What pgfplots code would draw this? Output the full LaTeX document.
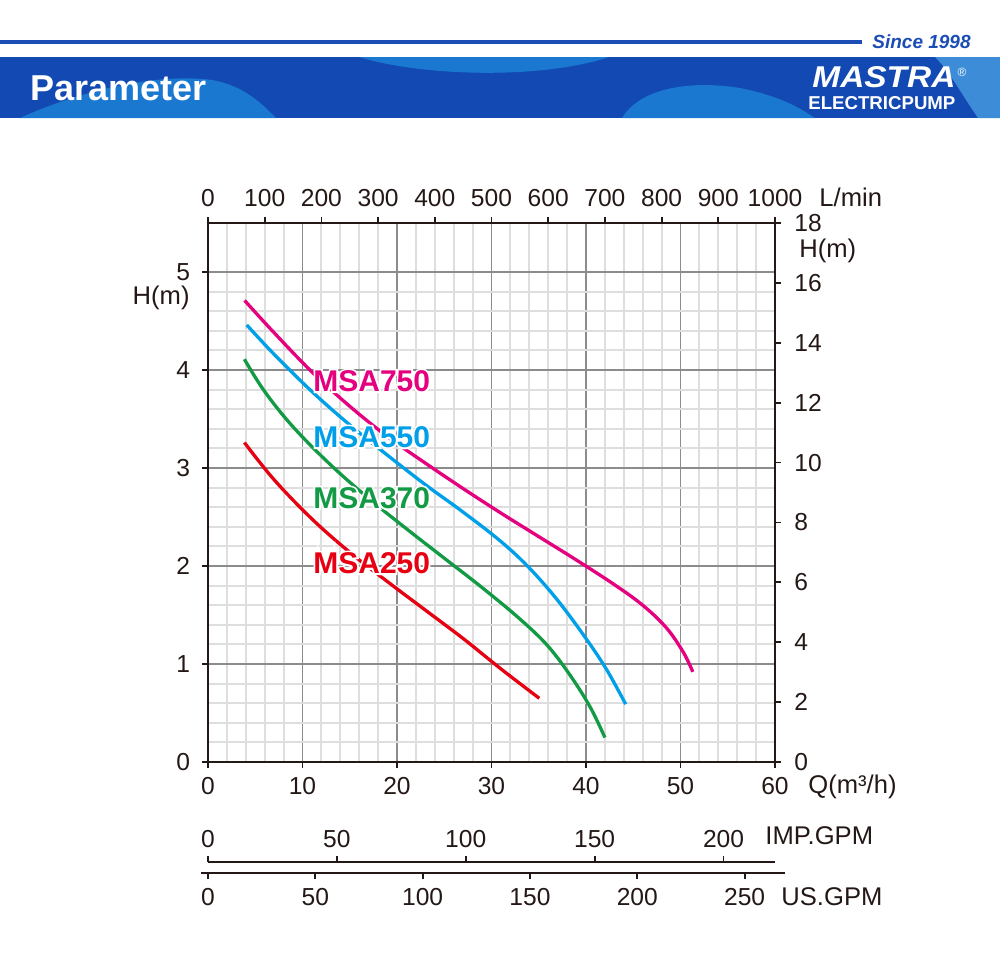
\documentclass[border=0pt]{standalone}
\usepackage{fontspec}
\setmainfont{Liberation Sans}
\usepackage{graphicx}
\usepackage{pgfplots}
\usepackage{pgfplotstable}
\pgfplotsset{compat=1.18}

\definecolor{c750}{HTML}{E4007F}
\definecolor{c550}{HTML}{00A0E9}
\definecolor{c370}{HTML}{129A44}
\definecolor{c250}{HTML}{E60012}
\definecolor{ink}{HTML}{231815}
\definecolor{hdr}{HTML}{1C4DB5}
\definecolor{band}{HTML}{1349B3}
\definecolor{wave}{HTML}{1A78D0}

% Q in m3/h, H on the left scale
\pgfplotstableread{
q h
3.87 4.71
7 4.38
11 3.98
15 3.63
19 3.32
23 3.05
27 2.79
31 2.54
35 2.30
39 2.06
43 1.81
46 1.60
48.5 1.37
50.3 1.12
51.3 0.92
}\tA
\pgfplotstableread{
q h
4.1 4.46
7 4.16
11 3.78
15 3.44
19 3.13
23 2.83
27 2.55
31 2.25
34 1.98
37 1.65
40 1.26
42.2 0.94
44.2 0.59
}\tB
\pgfplotstableread{
q h
3.85 4.11
6 3.78
9 3.42
13 3.03
17 2.69
21 2.38
25 2.08
29 1.78
33 1.46
36 1.18
38.5 0.86
40.5 0.55
42 0.25
}\tC
\pgfplotstableread{
q h
3.85 3.26
7 2.88
11 2.48
15 2.14
19 1.84
23 1.55
27 1.26
31 0.95
35.06 0.65
}\tD

\newcommand\tfont{\fontsize{12.3}{14}\selectfont}
\newcommand\afont{\fontsize{12.8}{14}\selectfont}
\newcommand\lfont{\fontsize{15}{17}\selectfont\bfseries}
\newcommand\curvelab[4]{%
  \node[anchor=west,inner sep=0,text=white,font=\lfont] at (#1,#2)
    {\special{pdf:literal direct 1 Tr 1.8 w 1 1 1 RG}#4\special{pdf:literal direct 0 Tr}};
  \node[anchor=west,inner sep=0,text=#3,font=\lfont] at (#1,#2) {#4};}

\pgfplotsset{
  base/.style={
    scale only axis,
    tick align=outside,
    major tick length=3pt,
    axis line style={draw=ink,line width=1pt},
    every tick/.style={draw=ink,line width=0.9pt},
    ticklabel style={font=\tfont,text=ink},
    /pgf/number format/assume math mode=true,
    /pgf/number format/1000 sep={},
  },
  curve/.style={line width=1.65pt,smooth,tension=0.6}
}

\begin{document}
\begin{tikzpicture}
\begin{scope}[x=0.5pt,y=-0.5pt]
  \path[use as bounding box] (0,0) rectangle (1000,953);
  % header
  \draw[hdr,line width=1.7pt] (0,42) -- (862,42);
  \node[anchor=west,inner sep=0,text=hdr,font=\fontsize{9.5}{11}\selectfont\bfseries\itshape] at (872,42) {Since 1998};
  \fill[band] (0,57) rectangle (1000,118);
  \fill[wave] (20,118) .. controls (70,95) and (150,72) .. (212,80) .. controls (245,86) and (262,104) .. (276,118) -- cycle;
  \fill[wave] (359,57) .. controls (420,76) and (540,80) .. (609,57) -- cycle;
  \fill[wave] (622,118) .. controls (640,88) and (690,80) .. (740,88) .. controls (780,96) and (800,108) .. (815,118) -- cycle;
  \fill[wave!85!white] (935,57) -- (1000,57) -- (1000,118) -- (978,118) .. controls (962,95) and (950,72) .. (935,57) -- cycle;
  \node[anchor=west,inner sep=0,text=white,font=\fontsize{18}{20}\selectfont\bfseries] at (30,88) {Parameter};
  \node[anchor=west,inner sep=0,text=white] at (812,77.5) {\resizebox{71.5pt}{10.5pt}{\bfseries\itshape MASTRA}};
  \node[anchor=west,inner sep=0,text=white] at (808,103.5) {\resizebox{73.5pt}{!}{\bfseries ELECTRICPUMP}};
  \node[inner sep=0,text=white,font=\fontsize{6}{7}\selectfont] at (962,72) {®};
  \coordinate (O) at (208,762);
  \coordinate (I) at (208,862);
  \coordinate (U) at (201,873);
\end{scope}

\begin{axis}[base,
  at={(O)}, anchor=south west,
  width=283.5pt, height=269.5pt,
  xmin=0, xmax=60, ymin=0, ymax=5.5,
  xtick={0,10,...,60}, ytick={0,1,...,5},
  minor x tick num=4, minor y tick num=4,
  minor tick length=0pt,
  tick pos=left,
  xticklabel style={yshift=-1.3pt},
  yticklabel style={xshift=-2.5pt},
  grid=both,
  major grid style={draw=black!45,line width=0.75pt},
  minor grid style={draw=black!13,line width=1pt},
]
\addplot[c250,curve] table[x=q,y=h] {\tD};
\addplot[c370,curve] table[x=q,y=h] {\tC};
\addplot[c550,curve] table[x=q,y=h] {\tB};
\addplot[c750,curve] table[x=q,y=h] {\tA};
\end{axis}

\begin{axis}[base,
  at={(O)}, anchor=south west,
  width=283.5pt, height=269.5pt,
  xmin=0, xmax=1000, ymin=0, ymax=18,
  axis x line*=top, axis y line*=right,
  xtick={0,100,...,1000}, ytick={0,2,...,18},
  xticklabel style={yshift=1.8pt},
  yticklabel style={xshift=3.2pt},
]
\end{axis}

\begin{axis}[base,
  at={(I)}, anchor=north west,
  width=283.5pt, height=5pt,
  xmin=0, xmax=219.97, ymin=0, ymax=1,
  axis x line*=top, hide y axis,
  xtick={0,50,...,200},
  xticklabel style={yshift=0.8pt},
]
\end{axis}

\begin{axis}[base,
  at={(U)}, anchor=south west,
  width=292pt, height=5pt,
  xmin=-3.26, xmax=268.8, ymin=0, ymax=1,
  axis x line*=bottom, hide y axis,
  xtick={0,50,...,250},
  xticklabel style={yshift=-1.3pt},
]
\end{axis}

\begin{scope}[x=0.5pt,y=-0.5pt]
  \curvelab{313}{381}{c750}{MSA750}
  \curvelab{313}{437}{c550}{MSA550}
  \curvelab{313}{498}{c370}{MSA370}
  \curvelab{313}{563}{c250}{MSA250}
  \node[anchor=west,inner sep=0,text=ink,font=\afont] at (819,197) {L/min};
  \node[anchor=west,inner sep=0,text=ink,font=\afont] at (799,251) {H(m)};
  \node[anchor=east,inner sep=0,text=ink,font=\afont] at (190,298) {H(m)};
  \node[anchor=west,inner sep=0,text=ink,font=\afont] at (808,787) {Q(m³/h)};
  \node[anchor=west,inner sep=0,text=ink,font=\afont] at (765,836) {IMP.GPM};
  \node[anchor=west,inner sep=0,text=ink,font=\afont] at (781,897) {US.GPM};
\end{scope}
\end{tikzpicture}
\end{document}
